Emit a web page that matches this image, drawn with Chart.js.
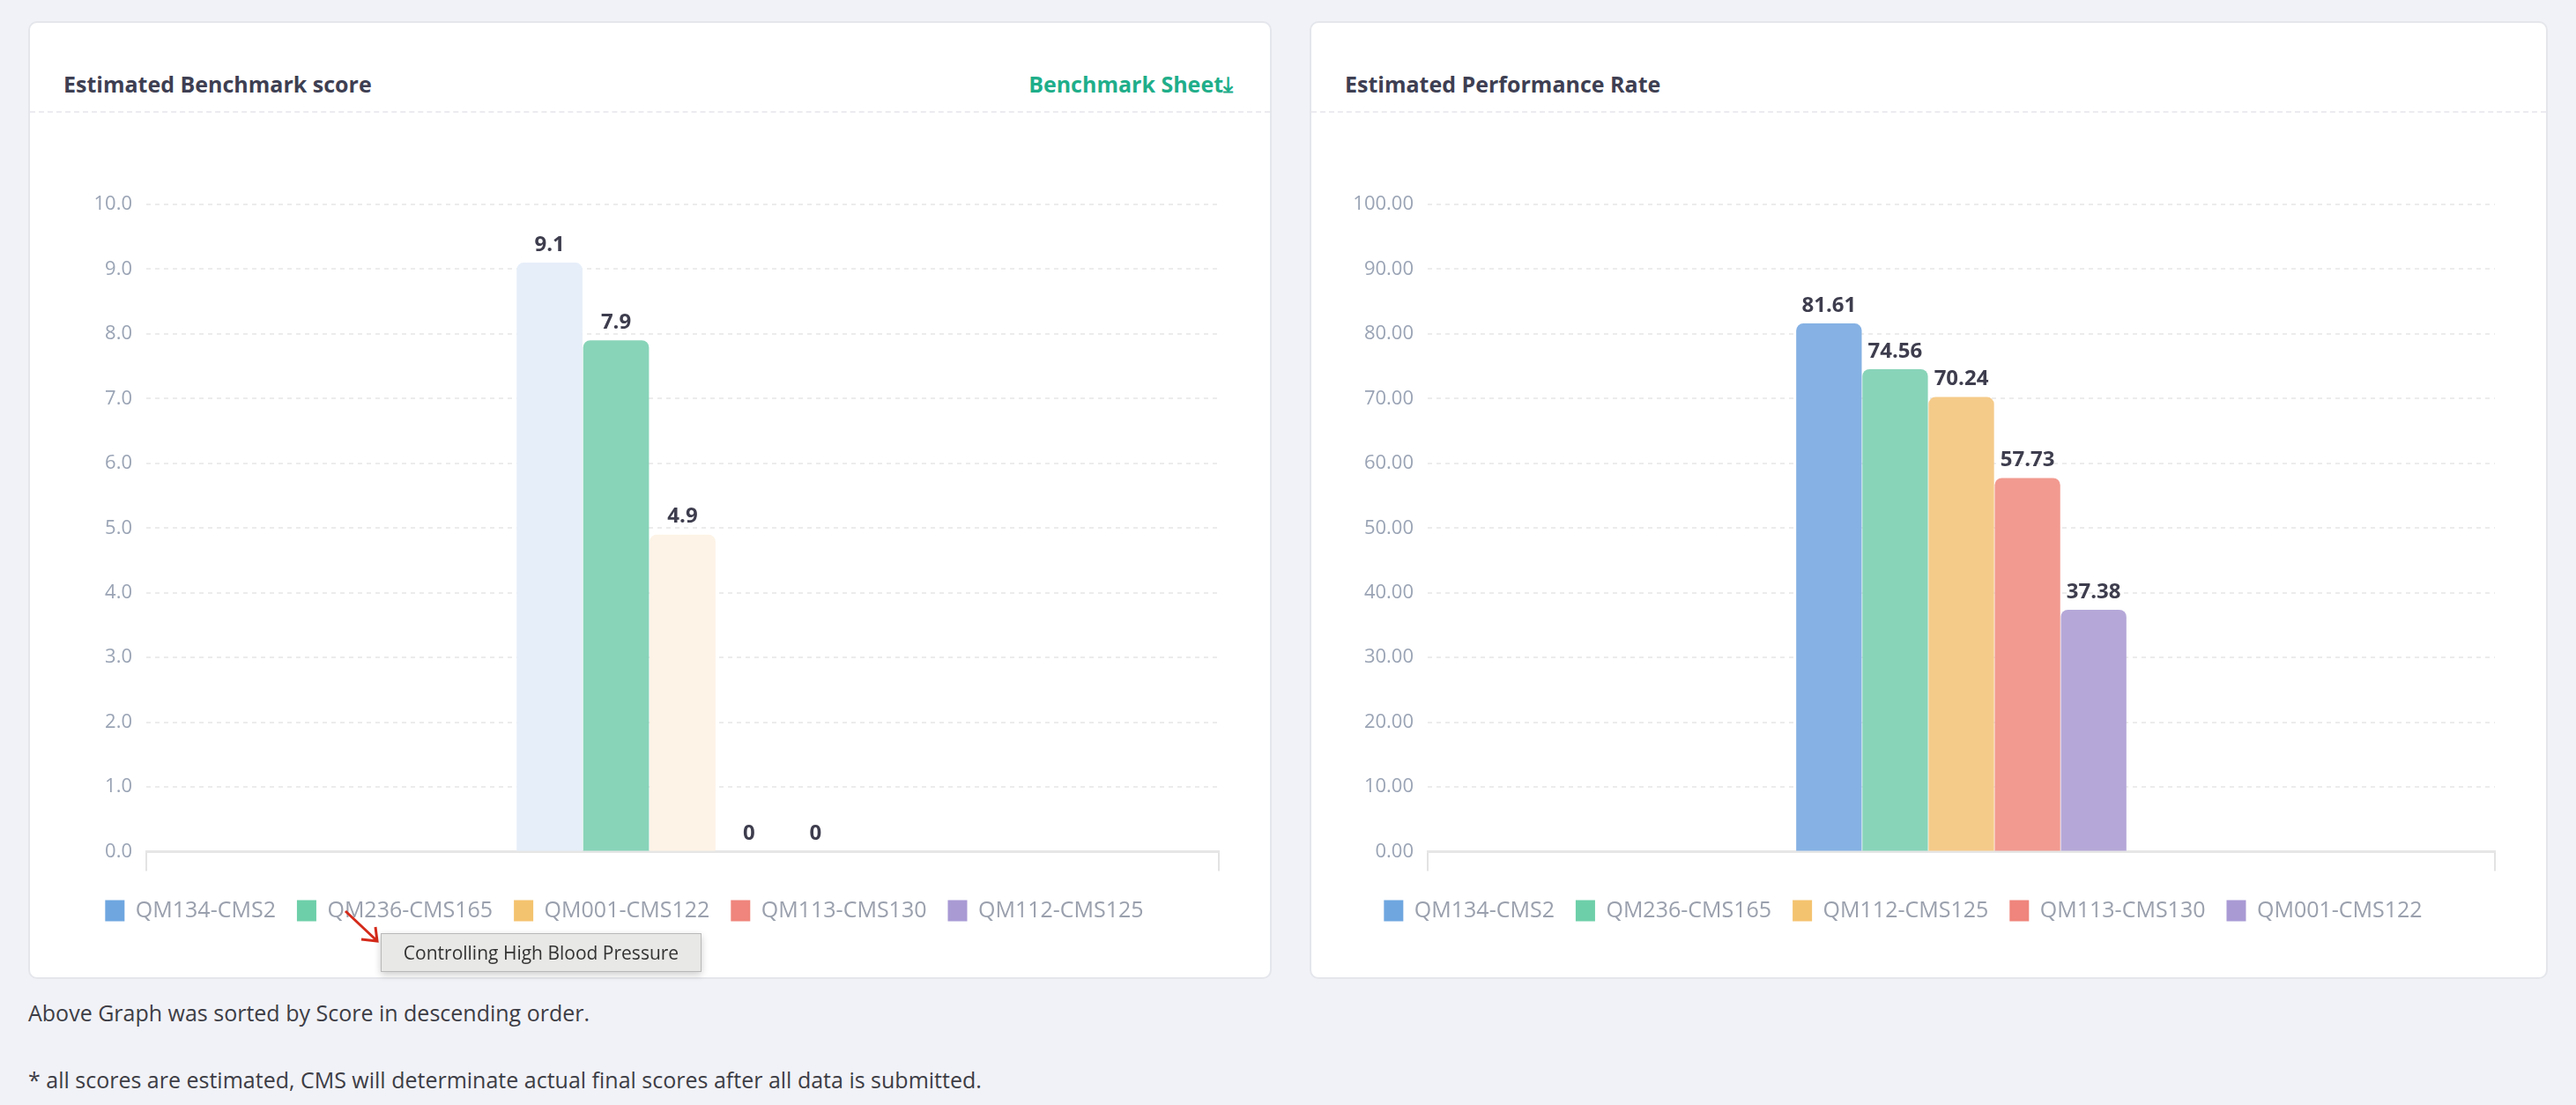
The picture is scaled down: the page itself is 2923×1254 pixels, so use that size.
<!DOCTYPE html>
<html>
<head>
<meta charset="utf-8">
<script src="https://cdn.jsdelivr.net/npm/chart.js@4"></script>
<style>
  body { margin: 0; background: #f1f2f7; font-family: "Open Sans", sans-serif; width: 2923px; height: 1254px; position: relative; overflow: hidden; }
  .card { position: absolute; top: 24px; height: 1087px; background: #fff; border: 2px solid #e4e6ec; border-radius: 10px; box-sizing: border-box; }
  .card h3 { position: absolute; left: 38px; top: 52px; margin: 0; font-size: 25px; font-weight: 700; color: #3e3f52; }
  .card .hd { position: absolute; left: 0; right: 0; top: 100px; border-top: 2px dashed #ececf0; }
  .link { position: absolute; right: 42px; top: 52px; font-size: 25px; font-weight: 700; color: #1fae8a; }
  .card canvas { position: absolute; left: 0; top: 110px; }
  .tip { position: absolute; left: 432px; top: 1059px; width: 362px; height: 42px; background: #e8e8e6; border: 1px solid #b9b9b9; box-shadow: 0 3px 8px rgba(0,0,0,.2); font-size: 21px; color: #333; line-height: 42px; text-align: center; }
  .note { position: absolute; left: 32px; font-size: 25px; color: #3d3d45; }
</style>
</head>
<body>
<div class="card" style="left:32px;width:1411px">
  <h3>Estimated Benchmark score</h3>
  <div class="link">Benchmark Sheet&#x2913;</div>
  <div class="hd"></div>
  <canvas id="ch-score" width="1407" height="940"></canvas>
</div>
<div class="card" style="left:1486px;width:1405px">
  <h3>Estimated Performance Rate</h3>
  <div class="hd"></div>
  <canvas id="ch-rate" width="1401" height="940"></canvas>
</div>
<svg style="position:absolute;left:388px;top:1030px" width="50" height="50">
  <path d="M4 4 L38 36 M22 36 L40 38 L38 22" stroke="#d42a1a" stroke-width="3" fill="none"/>
</svg>
<div class="tip">Controlling High Blood Pressure</div>
<div class="note" style="top:1132px">Above Graph was sorted by Score in descending order.</div>
<div class="note" style="top:1208px">* all scores are estimated, CMS will determinate actual final scores after all data is submitted.</div>
<script>
  'use strict';
  // ---- Dati ----
  const scoreNames = ['QM134-CMS2', 'QM236-CMS165', 'QM001-CMS122', 'QM113-CMS130', 'QM112-CMS125'];
  const scoreValues = [9.1, 7.9, 4.9, 0, 0];
  const rateNames = ['QM134-CMS2', 'QM236-CMS165', 'QM112-CMS125', 'QM113-CMS130', 'QM001-CMS122'];
  const rateValues = [81.61, 74.56, 70.24, 57.73, 37.38];
  const scoreTicks = { max: 10, step: 1, digits: 1 };
  const rateTicks = { max: 100, step: 10, digits: 2 };

  const legendColors = ['#6fa6e0', '#6dcfa9', '#f4c36f', '#ef857c', '#a99ad4'];
  const barColors = ['#85b1e4', '#88d4b9', '#f5cb8a', '#f29a90', '#b5a8d8'];
  const fadedColors = ['#e6eef9', '#88d4b9', '#fdf3e6', '#f29a90', '#b5a8d8'];

  const valueLabels = {
    id: 'valueLabels',
    afterDatasetsDraw(chart) {
      const ctx = chart.ctx;
      ctx.save();
      ctx.font = 'bold 24px "Open Sans"';
      ctx.fillStyle = '#3d3d4e';
      ctx.textAlign = 'center';
      ctx.textBaseline = 'bottom';
      chart.data.datasets.forEach((ds, i) => {
        chart.getDatasetMeta(i).data.forEach((bar, j) => {
          ctx.fillText(String(ds.data[j]), bar.x, bar.y - 8);
        });
      });
      ctx.restore();
    }
  };

  function build(id, names, values, colors, t) {
    new Chart(document.getElementById(id), {
      type: 'bar',
      data: {
        labels: [''],
        datasets: names.map((n, i) => ({
          label: n, data: [values[i]], backgroundColor: colors[i],
          borderRadius: 8, borderSkipped: 'bottom',
          categoryPercentage: 0.31, barPercentage: 0.99
        }))
      },
      options: {
        responsive: false, animation: false, devicePixelRatio: 1,
        layout: { padding: { top: 96, right: 58, left: 0, bottom: 20 } },
        plugins: {
          tooltip: { enabled: false },
          legend: {
            position: 'bottom',
            labels: {
              font: { size: 25, family: 'Open Sans' }, color: '#9aa0ad',
              boxWidth: 22, boxHeight: 24, padding: 24,
              generateLabels: ch => ch.data.datasets.map((d, i) => ({
                text: d.label, fillStyle: legendColors[i], strokeStyle: legendColors[i],
                lineWidth: 0, datasetIndex: i, fontColor: '#9aa0ad'
              }))
            }
          }
        },
        scales: {
          x: {
            grid: { display: true, drawOnChartArea: false, tickLength: 22, color: '#e3e3e3', lineWidth: 2 },
            border: { color: '#e6e6e6', width: 3 },
            ticks: { display: true, font: { size: 2 } }
          },
          y: {
            min: 0, max: t.max,
            afterFit: s => { s.width = 132; },
            grid: { color: '#ececec', lineWidth: 2, drawTicks: false },
            border: { display: false, dash: [5, 5] },
            ticks: {
              stepSize: t.step, padding: 16, color: '#9aa4b5',
              font: { size: 22, family: 'Open Sans' },
              callback: v => Number(v).toFixed(t.digits)
            }
          }
        }
      },
      plugins: [valueLabels]
    });
  }

  Chart.defaults.scale.grid.borderDash = [5, 5];
  build('ch-score', scoreNames, scoreValues, fadedColors, scoreTicks);
  build('ch-rate', rateNames, rateValues, barColors, rateTicks);
</script>
</body>
</html>
